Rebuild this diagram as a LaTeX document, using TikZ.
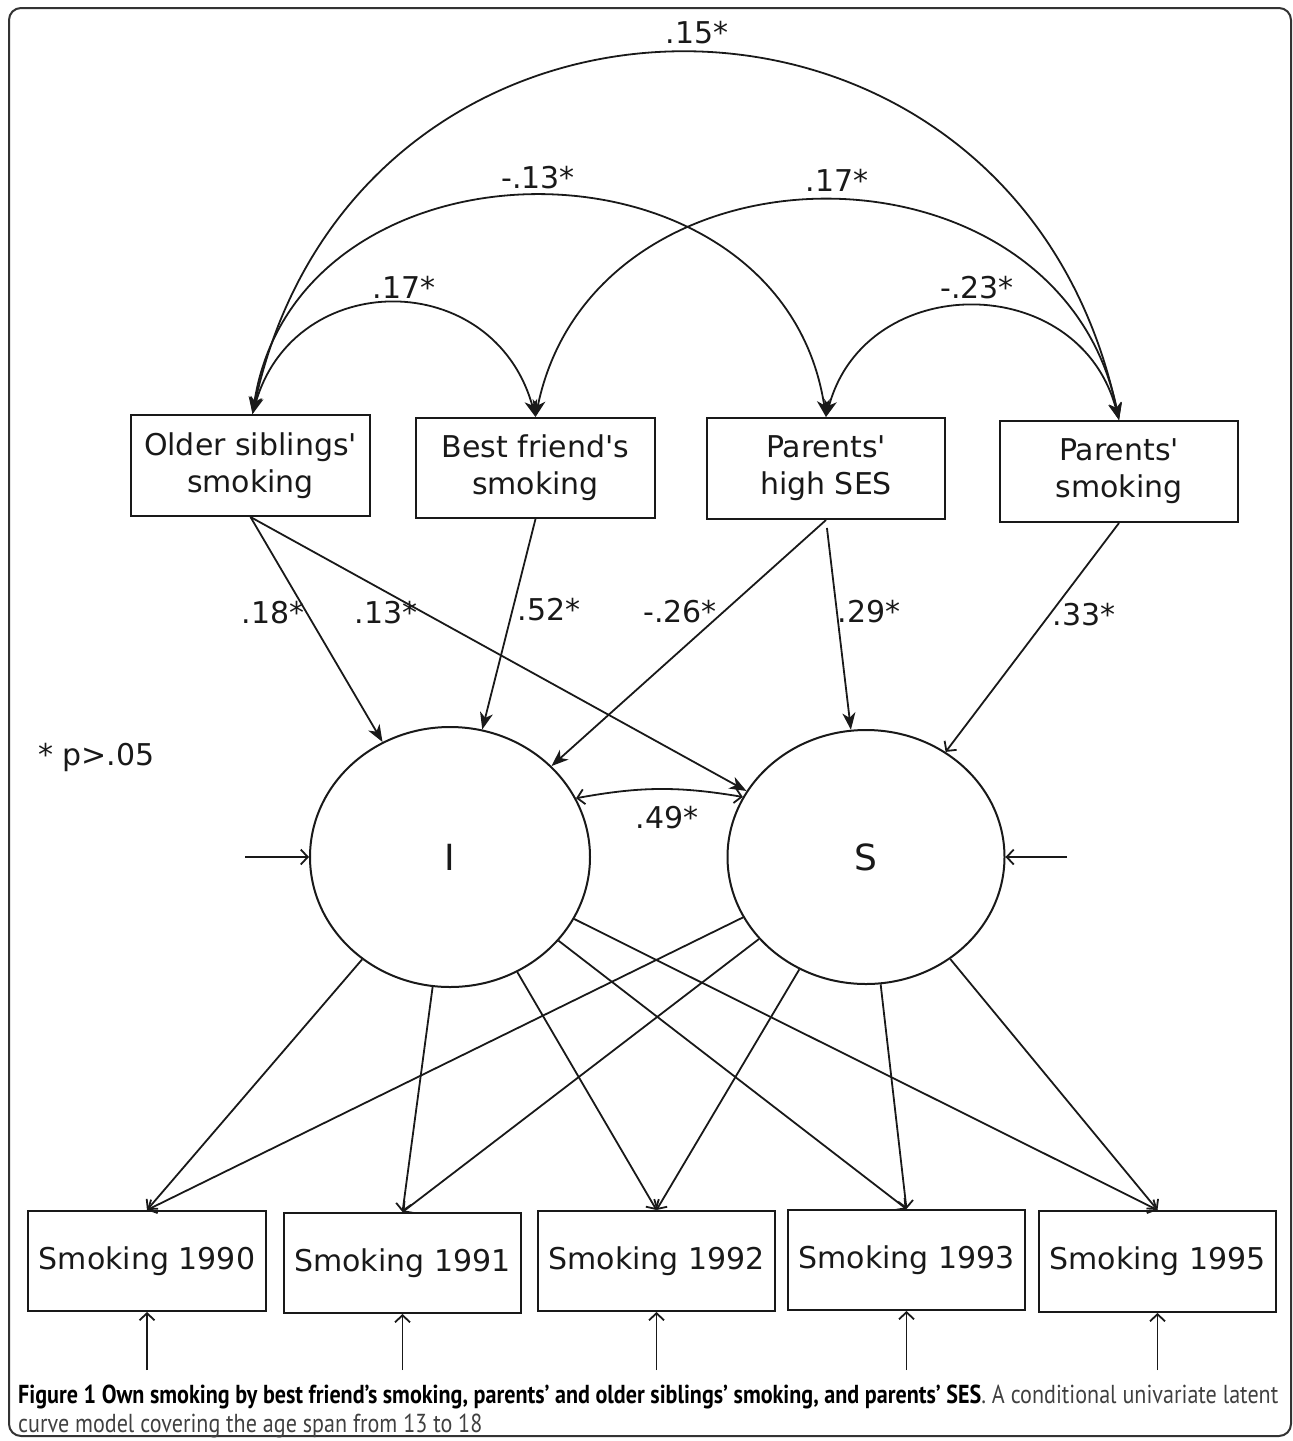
\documentclass[tikz,border=0pt]{standalone}
\usepackage{fontspec}
\usepackage{graphicx}
\setmainfont{DejaVu Sans}[Ligatures=TeXOff]
\newfontfamily\capfont{PT Sans}
\usetikzlibrary{arrows.meta,shapes.geometric}
\begin{document}
\begin{tikzpicture}[x=1pt,y=1pt,
  lbl/.style={font=\fontsize{30}{36}\selectfont, inner sep=0pt, text=black!90},
  obs/.style={draw=black!90, line width=2pt, rectangle, inner sep=0pt, align=center,
              font=\fontsize{30}{37}\selectfont, text=black!90},
  lat/.style={draw=black!90, line width=2pt, ellipse, inner sep=0pt,
              font=\fontsize{36}{40}\selectfont, text=black!90},
  fa/.style={draw=black!90, line width=1.8pt, -{Stealth[length=17pt,width=13pt,inset=5pt]}},
  oa/.style={draw=black!90, line width=1.8pt, -{Straight Barb[length=7pt,width=15pt]}},
  cov/.style={draw=black!90, line width=1.8pt,
              {Stealth[length=17pt,width=13pt,inset=5pt]}-{Stealth[length=17pt,width=13pt,inset=5pt]}},
  ocov/.style={draw=black!90, line width=1.8pt,
              {Straight Barb[length=7pt,width=15pt]}-{Straight Barb[length=7pt,width=15pt]}},
]
\useasboundingbox (0,0) rectangle (1293,-1441);
% frame
\draw[line width=2pt, draw=black!80, rounded corners=12pt] (9,-8) rectangle (1291,-1436);

% top observed predictors
\node[obs, minimum width=239pt, minimum height=101pt] (os)  at (250.5,-465.5) {Older siblings'\\smoking};
\node[obs, minimum width=239pt, minimum height=100pt] (bf)  at (535.5,-468)   {Best friend's\\smoking};
\node[obs, minimum width=238pt, minimum height=101pt] (ses) at (826,-468.5)   {Parents'\\high SES};
\node[obs, minimum width=238pt, minimum height=101pt] (ps)  at (1119,-471.5)  {Parents'\\smoking};

% latent factors
\node[lat, minimum width=280pt, minimum height=260pt] (I) at (450,-857) {I};
\node[lat, minimum width=277pt, minimum height=254pt] (S) at (866,-857) {S};

% bottom indicators
\node[obs, minimum width=238pt, minimum height=100pt] (y90) at (147,-1261)   {Smoking 1990};
\node[obs, minimum width=237pt, minimum height=100pt] (y91) at (402.5,-1263) {Smoking 1991};
\node[obs, minimum width=237pt, minimum height=100pt] (y92) at (656.5,-1261) {Smoking 1992};
\node[obs, minimum width=237pt, minimum height=100pt] (y93) at (906.5,-1260) {Smoking 1993};
\node[obs, minimum width=237pt, minimum height=101pt] (y95) at (1157.5,-1261.5) {Smoking 1995};

% covariances among predictors
\coordinate (osT) at ([xshift=2pt]os.north);
\draw[cov] (osT) .. controls +(105,481) and +(-105,487) .. (ps.north);
\draw[cov] (osT) .. controls +(45,290) and +(-45,293) .. (ses.north);
\draw[cov] (osT) .. controls +(42,147) and +(-42,150) .. (bf.north);
\draw[cov] (bf.north) .. controls +(60,288) and +(-60,291) .. (ps.north);
\draw[cov] (ses.north) .. controls +(40,147) and +(-40,150) .. (ps.north);

\node[lbl] (c15) at (697,-33)  {.15*};
\node[lbl] (c13) at (538,-178) {-.13*};
\node[lbl] (c17a) at (404,-287) {.17*};
\node[lbl] (c17b) at (837,-180) {.17*};
\node[lbl] (c23) at (977,-288) {-.23*};

% regressions on I and S
\draw[fa] (os.south) -- (I);
\draw[fa] (os.south) -- (S);
\draw[fa] (bf.south) -- (I);
\draw[fa] (ses.south) -- (I);
\draw[fa, shorten <=8pt] (ses.south) -- (S);
\draw[oa] (ps.south) -- (S);

\node[lbl] (r18) at (273,-613) {.18*};
\node[lbl] (r13) at (386,-613) {.13*};
\node[lbl] (r52) at (549,-610) {.52*};
\node[lbl] (r26) at (680,-612) {-.26*};
\node[lbl] (r29) at (869,-612) {.29*};
\node[lbl] (r33) at (1084,-615) {.33*};

% I-S covariance
\draw[ocov] (I.25) to[bend left=10] (S.154);
\node[lbl] (c49) at (667,-818) {.49*};

\node[lbl, anchor=west] (note) at (38,-757) {* p>.05};

% disturbances of latent factors
\coordinate (eI) at (245,-857);
\coordinate (eS) at (1067,-857);
\draw[oa] (eI) -- (I);
\draw[oa] (eS) -- (S);

% loadings
\foreach \y in {y90,y91,y92,y93,y95}{
  \draw[oa] (I) -- (\y.north);
  \draw[oa] (S) -- (\y.north);
}

% measurement errors
\coordinate (e90) at (147,-1370);
\coordinate (e91) at (402.5,-1370);
\coordinate (e92) at (656.5,-1370);
\coordinate (e93) at (906.5,-1370);
\coordinate (e95) at (1157.5,-1370);
\draw[oa] (e90) -- (y90.south);
\draw[oa] (e91) -- (y91.south);
\draw[oa] (e92) -- (y92.south);
\draw[oa] (e93) -- (y93.south);
\draw[oa] (e95) -- (y95.south);

% caption
\node[anchor=north west, inner sep=0pt] (cap) at (18,-1383)
  {\resizebox{1260pt}{\height}{\capfont\fontsize{26}{29}\selectfont
   \begin{tabular}{@{}l@{}}
   \textbf{Figure 1 Own smoking by best friend’s smoking, parents’ and older siblings’ smoking, and parents’ SES}\textcolor{black!75}{. A conditional univariate latent}\\
   \textcolor{black!75}{curve model covering the age span from 13 to 18}
   \end{tabular}}};
\end{tikzpicture}
\end{document}
